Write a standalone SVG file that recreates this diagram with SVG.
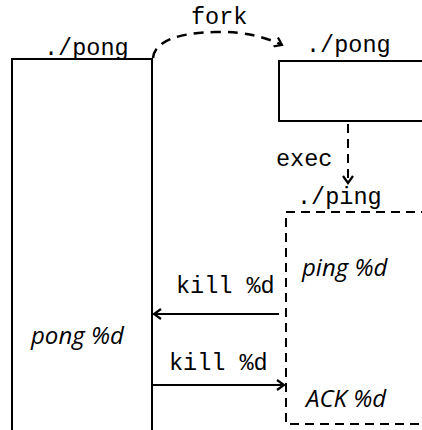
<svg xmlns="http://www.w3.org/2000/svg" width="422" height="430" viewBox="0 0 422 430">
  <style>
    .box { fill: none; stroke: #000; stroke-width: 2; }
    .dash { stroke-dasharray: 9 6; }
    .mono { font-family: "Liberation Mono", "Courier New", monospace; font-size: 23.5px; fill: #000; }
    .ital { font-family: "Open Sans", "DejaVu Sans", sans-serif; font-style: italic; font-size: 24px; fill: #000; }
    .link { fill: none; stroke: #000; stroke-width: 2; }
    .arc { fill: none; stroke: #000; stroke-width: 2.5; stroke-dasharray: 10 7; }
  </style>
  <defs>
    <marker id="chev" viewBox="0 0 12 12" refX="10" refY="6" markerWidth="12" markerHeight="12" markerUnits="userSpaceOnUse" orient="auto">
      <polyline points="3,1 10,6 3,11" fill="none" stroke="#000" stroke-width="2.2"/>
    </marker>
  </defs>
  <rect width="422" height="430" fill="#fff"/>

  <g id="parent">
    <path class="box" d="M12,440 V59 H152 V440"/>
    <text class="mono" x="44" y="55">./pong</text>
    <text class="ital" x="31" y="344">pong %d</text>
  </g>

  <g id="child">
    <path class="box" d="M430,61 H279 V121 H430"/>
    <text class="mono" x="306" y="52">./pong</text>
  </g>

  <g id="ping">
    <path class="box dash" d="M430,212 H286 V424 H430"/>
    <text class="mono" x="297" y="204">./ping</text>
    <text class="ital" x="302" y="276">ping %d</text>
    <text class="ital" x="306" y="407">ACK %d</text>
  </g>

  <g id="connectors">
    <path class="arc" d="M153,58 C155,40 180,33 215,32 C245,31 268,38 282,45" marker-end="url(#chev)"/>
    <text class="mono" x="191" y="24">fork</text>
    <path class="link dash" d="M348,124 V183" marker-end="url(#chev)"/>
    <text class="mono" x="276" y="166">exec</text>
    <path class="link" d="M279,314 H154" marker-end="url(#chev)"/>
    <text class="mono" x="176" y="293">kill %d</text>
    <path class="link" d="M153,385 H284" marker-end="url(#chev)"/>
    <text class="mono" x="169" y="370">kill %d</text>
  </g>
</svg>
